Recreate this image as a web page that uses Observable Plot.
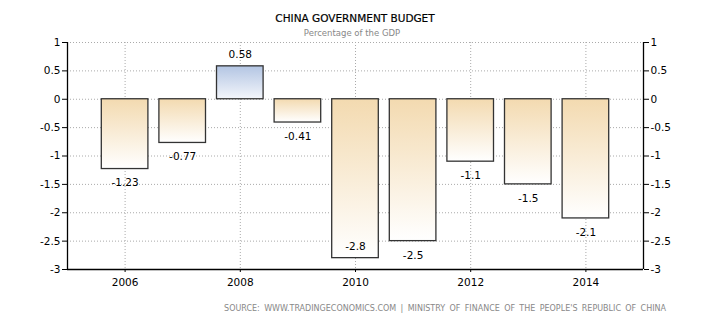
<!DOCTYPE html>
<html>
<head>
<meta charset="utf-8">
<script src="https://cdn.jsdelivr.net/npm/d3@7"></script>
<script src="https://cdn.jsdelivr.net/npm/@observablehq/plot@0.6"></script>
<style>
  html, body { margin: 0; padding: 0; background: #fff; }
  #wrap { position: relative; width: 710px; height: 325px; font-family: "DejaVu Sans", sans-serif; }
  #title { position: absolute; left: 0; width: 710px; top: 12px; text-align: center; font-size: 10.5px; color: #000; -webkit-text-stroke: 0.2px #000; }
  #subtitle { position: absolute; left: 0; width: 704px; top: 28px; text-align: center; font-size: 8.5px; color: #888; }
  #source { position: absolute; right: 44px; top: 304px; font-size: 8px; color: #888; letter-spacing: 0px; word-spacing: 1.8px; }
  #chart { position: absolute; left: 0; top: 0; }
</style>
</head>
<body>
<div id="wrap">
  <div id="chart"></div>
  <div id="title">CHINA GOVERNMENT BUDGET</div>
  <div id="subtitle">Percentage of the GDP</div>
  <div id="source">SOURCE: WWW.TRADINGECONOMICS.COM | MINISTRY OF FINANCE OF THE PEOPLE'S REPUBLIC OF CHINA</div>
</div>
<script>
const years = [2006, 2007, 2008, 2009, 2010, 2011, 2012, 2013, 2014];
const values = [-1.23, -0.77, 0.58, -0.41, -2.8, -2.5, -1.1, -1.5, -2.1];
const xTicks = [2006, 2008, 2010, 2012, 2014];
const yTicks = [1, 0.5, 0, -0.5, -1, -1.5, -2, -2.5, -3];

const data = years.map((y, i) => ({year: y, value: values[i]}));
const fnt = "DejaVu Sans, sans-serif";

// labels above positive bars, below negative bars, inside bars that reach the axis floor
const above = data.filter(d => d.value >= 0);
const below = data.filter(d => d.value < 0 && d.value > -2.6);
const inside = data.filter(d => d.value <= -2.6);
const labelOpts = (dy) => ({x: "year", y: "value", dy, text: d => String(d.value), fill: "#000", fontSize: 10.5});

const svg = Plot.plot({
  width: 710,
  height: 325,
  marginLeft: 67,
  marginRight: 67,
  marginTop: 42,
  marginBottom: 56,
  style: {fontFamily: fnt, fontSize: "10px", color: "#000", background: "#fff"},
  x: {domain: [2005, 2015], label: null},
  y: {domain: [-3, 1], label: null},
  marks: [
    Plot.gridY(yTicks, {stroke: "#aaa", strokeOpacity: 1, strokeDasharray: "1,2"}),
    Plot.gridX(xTicks, {stroke: "#aaa", strokeOpacity: 1, strokeDasharray: "1,2"}),
    Plot.rectY(data, {
      x1: d => d.year - 0.5,
      x2: d => d.year + 0.5,
      y1: 0,
      y2: "value",
      insetLeft: 5.5,
      insetRight: 5.5,
      fill: d => d.value >= 0 ? "url(#gradPos)" : "url(#gradNeg)",
      stroke: "#333",
      strokeWidth: 1.3
    }),
    Plot.text(above, labelOpts(-12)),
    Plot.text(below, labelOpts(14)),
    Plot.text(inside, labelOpts(-12)),
    Plot.ruleX([2005, 2015], {stroke: "#000", strokeWidth: 1.3}),
    Plot.ruleY([-3], {stroke: "#000", strokeWidth: 1.3}),
    Plot.axisY(yTicks, {anchor: "left", tickSize: 5, tickPadding: 2, tickFormat: d => String(d), fontSize: 10.5, stroke: "#000"}),
    Plot.axisY(yTicks, {anchor: "right", tickSize: 5, tickPadding: 2, tickFormat: d => String(d), fontSize: 10.5, stroke: "#000"}),
    Plot.axisX(xTicks, {anchor: "bottom", tickSize: 3, tickPadding: 6, tickFormat: d => String(d), fontSize: 10.5, stroke: "#000"})
  ]
});

const sel = d3.select(svg);
const defs = sel.insert("defs", ":first-child");
const gn = defs.append("linearGradient").attr("id", "gradNeg").attr("x1", 0).attr("y1", 0).attr("x2", 0).attr("y2", 1);
gn.append("stop").attr("offset", "0%").attr("stop-color", "#f3dab0");
gn.append("stop").attr("offset", "100%").attr("stop-color", "#ffffff");
const gp = defs.append("linearGradient").attr("id", "gradPos").attr("x1", 0).attr("y1", 0).attr("x2", 0).attr("y2", 1);
gp.append("stop").attr("offset", "0%").attr("stop-color", "#b3c5e3");
gp.append("stop").attr("offset", "100%").attr("stop-color", "#f3f6fb");

document.getElementById("chart").appendChild(svg);
</script>
</body>
</html>
